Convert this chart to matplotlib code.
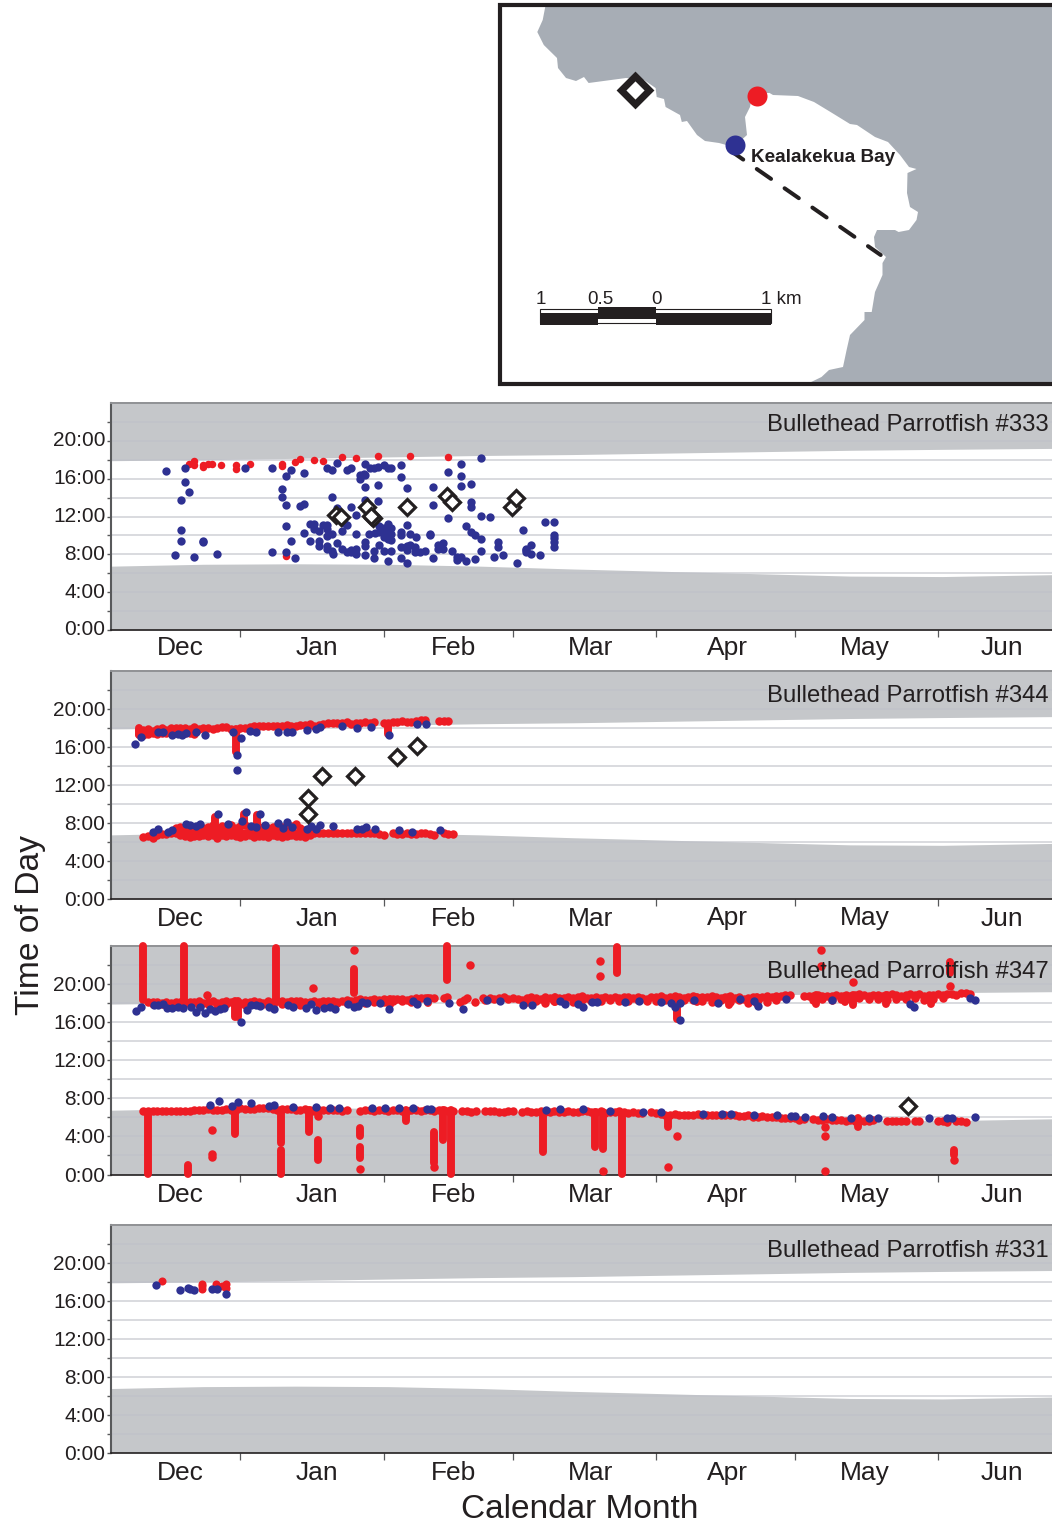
import matplotlib
matplotlib.use("Agg")
import matplotlib.pyplot as plt
from matplotlib.patches import Polygon, Rectangle
from matplotlib.transforms import ScaledTranslation

W, H = 1052, 1523
plt.rcParams['font.family'] = ['Liberation Sans', 'DejaVu Sans']
INK = '#231f20'; BLUE = '#2e3192'; RED = '#ed1c24'; NIGHT = '#c5c7ca'; SEA = '#a7adb5'

MONTHS = ['Dec', 'Jan', 'Feb', 'Mar', 'Apr', 'May', 'Jun']
MONTH_LABEL_DAYS = [14.9, 44.6, 74.2, 103.9, 133.5, 163.2, 192.8]
MONTH_EDGES = [28, 59, 87, 118, 148, 179]
HOUR_TICKS = [0, 2, 4, 6, 8, 10, 12, 14, 16, 18, 20, 22]
HOUR_LABELS = {0: '0:00', 4: '4:00', 8: '8:00', 12: '12:00', 16: '16:00', 20: '20:00'}

# sunrise / sunset
SUN_DAYS = [0, 20, 40, 60, 80, 100, 120, 140, 160, 180, 204]
SUNSET = [17.9, 18.0, 18.15, 18.3, 18.45, 18.55, 18.7, 18.85, 19.0, 19.1, 19.2]
SUNRISE = [6.75, 6.95, 7.0, 6.95, 6.75, 6.45, 6.2, 5.95, 5.7, 5.65, 5.85]

# --- #333
F333_BLUE_DAY = [11.8,16,16,16.8,15.1,15.1,15.1,13.9,18,20,20,22.9,29,34.9,37.9,38.9,41.8,37,37,37.9,41,41.8,37.9,38.9,34.9,37.9,39.8,41.8,43.1,43.1,43.9,43.9,45,45,45,46,46.8,46.8,46.8,47.9,46.8,46.8,47.9,48,48.9,47.9,46.8,47.9,48.9,51,52,52,53,51,50,50,51,52,53,53,53,52,55,56,55,53.9,54.8,57,53.9,55,57.8,59.1,59.9,60.7,62.7,57.8,55,57.8,62.7,64,59.9,60.7,59.1,59.9,60.7,59.1,58,59.9,60.7,58,58.8,59.5,60.3,55.8,55,55,57,57,55,58,59.1,60.7,59.9,62.7,62.7,64,64.8,66,62.7,64,64,64.8,65.9,65.9,66.9,67.9,62.7,64,69,69,69.8,69.8,69.8,71.8,70.8,70.8,71.8,72.9,72.9,75.8,75.8,75.8,77.9,77.9,77.9,80,80,82,76.8,77.9,78.9,80,73.9,75,75,75.8,76.8,78.9,80,82.9,83.7,83.7,84.9,87.8,89.1,89.9,89.9,90.9,90.9,89.9,92.8,94,95.9,95.9,95.9,95.9,95.9,49,50.5,57.2]
F333_BLUE_HR = [16.8,17.1,15.7,14.6,13.7,10.6,9.4,7.9,7.7,9.4,9.3,8,17.1,17.1,16.3,16.9,16.6,14.9,14.1,13.2,13.1,13.3,11,9.4,8.2,8.2,7.6,10.3,9.4,11.2,11.2,10.7,10.5,9.4,8.9,11.1,11.1,10.7,9.9,10.1,8.9,8.6,8.3,8,9.2,14.1,17.1,16.9,17.7,16.9,17.1,13,12.2,11.1,10.5,8.6,8.2,8.2,10.2,8.6,8,8.5,17.6,17.1,16.4,16,16.5,17.1,16.4,15.1,15.3,17.4,17.1,17.1,17.4,13.6,13.7,17.2,16.2,15,11.2,10.8,10.8,10.2,10.2,9.8,10.4,9.6,9.5,11,10.6,10.5,10.1,10.2,9.3,8.9,8.3,7.6,7.9,9,8.3,8.3,7.3,10.4,10,11.1,10.2,9.8,8.8,8.9,8.5,9,8.8,8.2,8.2,8.4,7.6,7.1,10.2,10,7.6,13.2,15.1,9.2,9,8.6,8.6,16.7,11.8,17.5,16.3,15.2,15.4,13.5,13,18.2,12.1,12,11,10.4,10,9.6,8.4,7.7,7.4,7.7,7.3,7.5,8.3,7.7,9.3,8.8,7.9,7.1,10.6,8.6,8.2,9,8,8.5,7.9,11.4,11.4,10,9.7,9.3,8.8,12.9,11.3,10.3]
F333_RED_DAY = [16.8,18,18,20,20,21.1,21.9,23.9,27,27,30,37,37,39.8,41,43.9,46,50,53,57.8,64.8,72.9,37.9]
F333_RED_HR = [17.5,17.9,17.4,17.4,17.2,17.5,17.5,17.4,17.4,17,17.5,17.5,17.3,17.8,18.1,18,17.9,18.3,18.2,18.4,18.4,18.3,7.8]
F333_TAG_DAY = [48.7,49.7,55.5,56.8,56.2,64,72.8,73.9,86.7,87.7]
F333_TAG_HR = [12.2,12,13,11.8,12.1,13,14.2,13.5,13,14]

# --- #344
F344_BLUE_DAY = [5.3,6.4,10.2,11.3,13.3,14.4,15.3,16.2,18.4,20.3,26.5,28.1,27.2,27.2,30.1,31.3,36.2,38.2,39.1,42.4,44.4,45.2,50.1,53.3,56.2,60.2,66.2,68.2,9.2,10.2,12.3,13.3,16.2,17.2,18.4,19.3,23.2,25.3,28.3,29.2,30.2,31.3,32.3,33.3,36.2,37.2,38.2,39.1,42.4,43.4,44.4,45.2,48.1,53.3,54.3,55.2,57.1,62.3,65.2,71.3]
F344_BLUE_HR = [16.3,17.1,17.6,17.6,17.3,17.4,17.3,17.5,17.6,17.3,17.6,17,15.2,13.6,17.7,17.6,17.6,17.6,17.6,17.8,17.9,18.1,18.2,18,18.1,17.3,18.4,18.4,7.1,7.4,7.1,7.3,7.9,7.8,7.7,7.9,8.9,7.9,8.2,9.2,7.7,7.6,9,7.8,8,7.5,8.1,7.6,7.4,7.7,7.4,7.8,7.7,7.4,7.4,7.6,7.4,7.3,7.1,7.3]
F344_RED_UP_DAY = list(range(6, 51)) + [51,52,53,54,55,56,57,59,60,61,62,63,64,65,66,67,68,71,72,73]
F344_RED_UP_HR = [17.8,17.8,17.9,17.7,17.9,18,17.8,18,18,18,18,17.9,18.1,17.9,18,18,17.9,18,18.1,18.1,17.9,17.7,18,18,18.1,18.2,18.2,18.2,18.2,18.2,18.2,18.2,18.3,18.2,18.2,18.3,18.3,18.4,18.2,18.3,18.4,18.5,18.5,18.5,18.5,18.6,18.4,18.5,18.5,18.6,18.5,18.6,18.5,18.5,18.6,18.6,18.7,18.6,18.6,18.7,18.8,18.8,18.7,18.7,18.7]
F344_RED_UP2_DAY = [6,7,8,9,10,11,12,13,14,15,16,17,18]
F344_RED_UP2_HR = [17.4,17.3,17.4,17.5,17.4,17.5,17.5,17.6,17.6,17.6,17.5,17.5,17.4]
F344_RED_LO_DAY = list(range(7, 60)) + [61,62,63,64,65,66,67,68,69,70,72,73,74]
F344_RED_LO_HR = [6.5,6.6,6.4,6.7,6.8,6.8,6.9,7,7.2,7.1,6.9,7,7,7,7,7.1,6.9,7.1,7,7.1,7,7.1,7,6.9,6.8,7,7,6.9,7.1,7,7,7.1,7.1,7,7,6.9,7,6.9,7,6.9,7,6.9,7,6.9,7,7,6.9,7,7,6.9,6.9,6.8,6.7,6.9,6.8,6.8,6.9,6.8,6.8,6.9,6.9,6.8,6.7,6.9,6.8,6.8]
F344_RED_LO2_DAY = list(range(14, 43))
F344_RED_LO2_HR = [7.5,7.6,7.5,7.4,7.4,7.5,7.5,7.6,7.8,7.5,7.7,7.5,7.8,7.5,7.7,7.8,7.4,7.5,7.5,7.6,7.5,7.6,7.7,7.6,7.8,7.7,7.9,7.5,7.3]
F344_RED_LO3_DAY = list(range(15, 44))
F344_RED_LO3_HR = [6.7,6.6,6.5,6.6,6.6,6.7,6.6,6.7,6.4,6.7,6.6,6.7,6.6,6.5,6.6,6.7,6.5,6.6,6.6,6.5,6.7,6.6,6.5,6.6,6.7,6.6,6.6,6.5,6.7]
F344_STREAK_DAY = [6, 22.5, 27, 28.7, 31.6, 60]
F344_STREAK_LO = [17.3, 7.2, 15.5, 7.8, 7.5, 17.4]
F344_STREAK_HI = [18, 8.6, 17.9, 9, 8.8, 18.4]
F344_TAG_DAY = [42.6,45.7,42.6,52.8,62,66.2]
F344_TAG_HR = [8.9,12.9,10.6,12.9,15,16.1]

# --- #347
F347_BLUE_DAY = [5.4,6.5,9.3,10.2,11.3,12.2,13.3,14.4,15.5,17.3,18.4,19.3,20.4,21.4,22.5,23.6,24.5,28.2,29.4,30.3,31.4,32.3,34.3,35.3,38.3,39.4,42.2,43.3,44.3,46.2,47.3,48.4,51.4,52.5,53.4,54.4,55.4,58.2,60.2,65.4,66.3,68.3,73.2,76.2,81.3,84.3,89.2,91.2,97.3,98.2,101,102.2,104.1,105.2,111.3,114.2,119.1,121.2,122.1,123.2,123.2,126.2,131.3,136.2,139.2,140,146.1,156,172.9,173.9,186,187,
 21.4,23.3,26.3,27.4,30.3,34.3,35.3,39.4,44.3,47.3,49.4,56.5,59.3,62.3,65.4,68.3,69.3,94.2,97.3,102.2,108,115.1,119.1,128.1,132.2,134.2,139.2,144.1,147.1,148.1,150.2,154.2,156,160.1,164.1,166.1,177.1,180.9,182.1,187]
F347_BLUE_HR = [17.2,17.6,17.8,17.8,17.9,17.5,17.5,17.6,17.5,17.6,17.1,17.6,17,17.4,17.2,17.4,17.5,16,17.3,17.8,17.8,17.7,17.6,17.4,17.8,17.6,17.5,17.9,17.3,17.5,17.6,17.4,17.9,17.6,17.7,18.1,18,18,17.4,18.2,17.9,18.2,18,17.4,18.3,18.2,17.8,17.8,18.2,17.9,17.9,17.6,18.1,18.1,18.1,18.2,18.1,18,17.6,18,16.2,18.3,18,18.4,18.2,17.7,18.4,18.3,17.9,17.6,18.5,18.3,
 7.3,7.7,7.2,7.6,7.5,7.2,7.3,7.1,7.1,7,7,7,7,7,7,6.9,6.9,6.8,6.9,6.9,6.7,6.6,6.6,6.4,6.4,6.4,6.2,6.2,6.1,6.1,6,6.1,6,5.9,5.9,5.9,5.9,5.9,5.9,6]
F347_RED_UP_DAY = list(range(8, 70)) + [70,72,72.8,75.5,76.5,77,78.8,80.6] + list(range(81, 148)) + list(range(150, 185)) + [185,186]
F347_RED_UP_HR = [18.1,18.1,18.1,18,18.1,18,18.1,18.1,18,18.1,18.1,18.2,18,18.1,18.2,18,18.1,18.2,18.1,18,18,18.1,18.1,18.2,18.1,18,18.2,18.1,18.2,18.2,18.1,18.2,18.2,18.2,18.1,18.1,18.2,18.1,18.2,18.2,18.2,18.1,18.2,18.3,18.2,18.3,18.4,18.3,18.3,18.4,18.3,18.4,18.3,18.4,18.4,18.4,18.3,18.4,18.5,18.5,18.5,18.5,
 18.5,18.5,18.6,18.1,18.3,18.5,18.1,18.5,
 18.3,18.5,18.4,18.5,18.6,18.4,18.5,18.4,18.3,18.5,18.6,18.5,18.4,18.6,18.5,18.4,18.5,18.5,18.6,18.5,18.6,18.7,18.5,18.5,18.6,18.5,18.6,18.5,18.6,18.5,18.6,18.6,18.5,18.6,18.5,18.4,18.6,18.6,18.7,18.5,18.6,18.7,18.6,18.5,18.6,18.7,18.5,18.6,18.6,18.7,18.6,18.5,18.6,18.7,18.5,18.6,18.4,18.5,18.6,18.5,18.6,18.7,18.6,18.8,18.7,18.9,18.9,
 18.8,18.7,18.8,18.9,18.8,18.7,18.8,18.9,18.8,18.9,18.8,18.9,19,18.9,18.8,18.9,18.9,18.8,18.9,19,18.9,18.8,18.9,19,18.9,19,18.8,18.9,18.9,19,18.9,19,19,18.9,19.1,19.1,19]
F347_RED_UP2_DAY = [9,11,13,15,17,19,21,23,25,27,29,31,33,35,37,39,41,43,45,47,49,51,53,55,57,59,61,63,65,90,92,94,96,98,100,102,104,106,108,110,112,114,116,118,120,122,124,126,128,130,132,134,136,138,140,142,144,152,154,156,158,160,162,164,166,168,170,172,174,176,178,180]
F347_RED_UP2_HR = [17.9,17.9,17.8,17.9,17.9,17.8,17.9,17.8,17.9,17.3,17.8,17.9,17.9,17.8,17.9,17.9,17.8,18,17.9,17.9,18,18,18,18,18.1,18.1,18.2,18.2,18.1,18.1,18.2,18,18.2,18.1,18.1,18.3,18.2,18.2,18.3,18.2,18.2,18.3,18.2,18.2,18.3,18.2,18.3,18.3,18.2,18.1,18.3,18.1,18.3,18,18.3,18.1,18.3,18.3,18.4,18.3,18.4,18.4,18.5,18.4,18.4,18.3,18.4,18.4,18.5,18.3,18.4,18.5]
F347_RED_LO_DAY = list(range(7, 52)) + list(range(54, 75)) + [76,77,78,79,81,82,83,84,85,86,87,89,90,91,92] + list(range(93, 116)) + list(range(117, 150)) + [150,152,153,154,155,156,157,158,159,160,161,162,163,164,165,168,169,170,171,172,174,175,179,180,181,183,184,185]
F347_RED_LO_HR = [6.7,6.7,6.7,6.7,6.7,6.7,6.7,6.7,6.7,6.7,6.7,6.8,6.8,6.8,6.9,6.8,6.8,6.8,6.9,6.8,6.8,7,6.9,6.9,6.9,7,7,7,6.9,6.8,6.9,6.9,6.9,6.8,6.8,6.9,6.8,6.7,6.8,6.8,6.8,6.8,6.8,6.7,6.8,
 6.7,6.8,6.8,6.7,6.8,6.8,6.7,6.8,6.8,6.7,6.7,6.8,6.8,6.7,6.8,6.8,6.7,6.8,6.8,6.7,6.7,
 6.7,6.7,6.6,6.7,6.7,6.7,6.7,6.6,6.6,6.7,6.7,6.6,6.7,6.6,6.6,
 6.7,6.6,6.6,6.7,6.6,6.6,6.7,6.6,6.6,6.7,6.7,6.6,6.6,6.7,6.5,6.6,6.6,6.7,6.6,6.5,6.6,6.5,6.5,
 6.6,6.5,6.4,6.3,6.3,6.4,6.3,6.3,6.3,6.3,6.4,6.3,6.3,6.2,6.3,6.3,6.2,6.2,6.2,6.1,6.1,6.2,6.0,6.0,6.1,6.0,6.0,6.0,5.9,5.9,5.9,5.9,5.7,
 5.8,5.8,5.7,5.7,5.8,5.7,5.7,5.7,5.6,5.7,5.6,5.7,5.6,5.6,5.7,5.6,5.6,5.6,5.6,5.6,5.6,5.6,5.6,5.6,5.5,5.6,5.6,5.5]
F347_STREAK_DAY = [6.9,6.9,8,15.9,16.7,26.8,26.8,27.6,35.8,36.7,36.7,42.8,44.8,52.7,53.9,53.9,63.8,69.9,71.9,72.8,73.7,93.6,104.7,106.6,110.7,109.6,120.6,122.6,152.6,167.8,160.7,133.7,177.5,181.6,182.5,161.6,60.3,68.7,96.1,126.8,139.9,158.9]
F347_STREAK_LO = [18.3,21,0.1,17.9,0.1,16.5,4.3,16.5,18.4,3.3,0.1,4.5,1.5,19.1,4,1.7,5.6,1.2,3.6,20.4,0.1,2.4,2.9,2.7,0.1,21.2,5,16.3,17.9,17.9,17.8,17.8,17.9,21.2,2,5,17.8,18,18.1,18.1,17.9,18.1]
F347_STREAK_HI = [20.9,24,6.6,24,1,18.2,6.8,18.2,23.8,6.8,2.6,6.8,3.6,21.6,4.9,2.9,6.8,4.5,6.8,24,6.8,6.6,6.6,6.6,6.3,23.9,6.1,17.9,18.9,18.9,18.9,18.6,18.7,22.3,2.6,5.9,18.4,18.5,18.6,18.6,18.6,18.8]
F347_DOT_DAY = [20.8,21.9,21.9,21.9,43.7,44.8,52.7,53.9,69.9,77.7,105.8,105.8,106.6,120.6,122.6,153.6,153.6,154.6,154.6,154.6,160.7,181.6,182.5]
F347_DOT_HR = [18.9,4.7,2.2,1.8,19.6,6.1,23.6,0.6,0.8,22,22.4,20.8,0.4,0.8,4,23.6,21.9,5,4,0.4,20.2,19.8,1.5]
F347_TAG_DAY = [172.6]
F347_TAG_HR = [7.2]

# --- #331
F331_BLUE_DAY = [9.7,14.9,16.6,17.2,17.9,21.8,22.9,24.8]
F331_BLUE_HR = [17.7,17.1,17.4,17.3,17.1,17.3,17.3,16.7]
F331_RED_DAY = [11,19.8,19.8,19.8,22.7,24,24.8,24.8]
F331_RED_HR = [18.1,17.8,17.6,17.3,17.8,17.6,17.8,17.4]

# --- map outline and geometry (figure pixels)
COAST_X = [545.6,542.7,537.3,543.8,557,558,566,576,584,588.6,626,644,655.6,656.7,664,665.6,680,681.8,687,697,705,719,733.7,747,745,750,751.6,766,769.6,773,798,814,830.5,850,857,875,888,900,909,916.5,907.5,907,910,918,916.5,909,898.6,895,877,874,875,886,882.5,882.5,875,871.7,864.5,864.5,850,846.6,843,829,821.5,807,1052,1052]
COAST_Y = [5,20,32,45,58,68,78,81,77,83,78,80,88,97,99,107,115,122,121,135,141,143,147,135,117,107,98,93,93,95,96,102,112,124,125,137,142,155,167,169,173,193,207,212,220,230,232,230,230,237,247,257,263,275,292,312,312,320,335,350,367,370,377,384,384,5]


def fpos(x0, y0, x1, y1):
    return [x0 / W, 1 - y1 / H, (x1 - x0) / W, (y1 - y0) / H]


def panel(top, bottom, title, title_drop, xpad, ylift):
    ax = fig.add_axes(fpos(111, top, 1052, bottom))
    ax.set_xlim(0, 203.7)
    ax.set_ylim(0, 24)
    ax.fill_between(SUN_DAYS, SUNSET, 24, color=NIGHT, lw=0, zorder=1)
    ax.fill_between(SUN_DAYS, 0, SUNRISE, color=NIGHT, lw=0, zorder=1)
    ax.hlines(HOUR_TICKS[1:], 0, 203.7, color='#bfc1c9', lw=1.1, alpha=0.75, zorder=2)
    ax.set_yticks(HOUR_TICKS)
    ax.set_yticklabels([HOUR_LABELS.get(h, '') for h in HOUR_TICKS], fontsize=15, color=INK)
    ax.set_xticks(MONTH_EDGES)
    ax.set_xticklabels([])
    ax.set_xticks(MONTH_LABEL_DAYS, MONTHS, minor=True, fontsize=19, color=INK)
    ax.tick_params(axis='x', which='major', length=5, width=0.9, color='#58595b')
    ax.tick_params(axis='x', which='minor', length=0, pad=xpad)
    ax.tick_params(axis='y', length=3, width=1.0, color='#58595b', pad=1)
    lift = ScaledTranslation(0, ylift / 100, fig.dpi_scale_trans)
    for lab in ax.get_yticklabels():
        lab.set_transform(lab.get_transform() + lift)
    ax.spines['right'].set_visible(False)
    ax.spines['top'].set_color('#8f9194'); ax.spines['top'].set_linewidth(1.4)
    ax.spines['left'].set_color('#58595b'); ax.spines['left'].set_linewidth(1.5)
    ax.spines['bottom'].set_color(INK); ax.spines['bottom'].set_linewidth(1.2)
    ax.text((1049 - 111) / 941, 1 - title_drop / (bottom - top), title, transform=ax.transAxes,
            ha='right', va='center', fontsize=17.2, color=INK, zorder=8)
    return ax


def dots(ax, x, y, c, ms=6.0, z=4):
    ax.plot(x, y, ls='none', marker='o', ms=ms, mfc=c, mec=c, mew=0, zorder=z, clip_on=False)


def tags(ax, x, y):
    ax.plot(x, y, ls='none', marker='D', ms=8.3, mfc='white', mec=INK, mew=2.3, zorder=6, clip_on=False)


def streaks(ax, x, lo, hi):
    vl = ax.vlines(x, lo, hi, color=RED, lw=5.7, zorder=3.5, clip_on=False)
    vl.set_capstyle('round')


fig = plt.figure(figsize=(W / 100, H / 100), dpi=100, facecolor='white')

# map
m = fig.add_axes(fpos(497, 2, 1052, 387))
m.set_xlim(497, 1052); m.set_ylim(387, 2); m.axis('off')
m.add_patch(Polygon(list(zip(COAST_X, COAST_Y)), closed=True, fc=SEA, ec='none', zorder=1))
m.plot([1052, 500, 500, 1052], [5, 5, 384, 384], color=INK, lw=3.0, solid_joinstyle='miter', zorder=5)
m.plot([729, 880.7], [149.7, 255], color=INK, lw=2.9, ls=(0, (4.3, 4.1)), zorder=3, dash_capstyle='round')
m.plot([635], [90], marker='D', ms=14.3, mfc='white', mec=INK, mew=5, zorder=4)
m.plot([756.5], [96], marker='o', ms=14.4, mfc=RED, mec='none', zorder=4)
m.plot([734.5], [145], marker='o', ms=14.4, mfc=BLUE, mec='none', zorder=4)
m.text(751, 157, 'Kealakekua Bay', fontsize=13.6, fontweight='bold', color=INK, va='center', zorder=6)
m.add_patch(Rectangle((540, 309), 230.5, 14, fc='white', ec=INK, lw=0.8, zorder=4))
m.add_patch(Rectangle((540, 313), 58, 11.5, fc=INK, ec='none', zorder=5))
m.add_patch(Rectangle((598, 307), 57.5, 12, fc=INK, ec='none', zorder=5))
m.add_patch(Rectangle((655.5, 313), 115, 11.5, fc=INK, ec='none', zorder=5))
for xt, s, ha in [(541, '1', 'center'), (600.5, '0.5', 'center'), (656.5, '0', 'center'), (761, '1 km', 'left')]:
    m.text(xt, 299.5, s, fontsize=13.5, color=INK, ha=ha, va='center', zorder=6)

# panels
a1 = panel(403, 630, 'Bullethead Parrotfish #333', 22, 4.0, 2)
dots(a1, F333_RED_DAY, F333_RED_HR, RED, ms=5.4, z=3.8)
dots(a1, F333_BLUE_DAY, F333_BLUE_HR, BLUE)
tags(a1, F333_TAG_DAY, F333_TAG_HR)

a2 = panel(671, 899, 'Bullethead Parrotfish #344', 25, 5.4, 0.5)
streaks(a2, F344_STREAK_DAY, F344_STREAK_LO, F344_STREAK_HI)
for xs, ys in [(F344_RED_UP_DAY, F344_RED_UP_HR), (F344_RED_UP2_DAY, F344_RED_UP2_HR),
               (F344_RED_LO_DAY, F344_RED_LO_HR), (F344_RED_LO2_DAY, F344_RED_LO2_HR),
               (F344_RED_LO3_DAY, F344_RED_LO3_HR)]:
    dots(a2, xs, ys, RED, ms=6.1, z=3.8)
dots(a2, F344_BLUE_DAY, F344_BLUE_HR, BLUE)
tags(a2, F344_TAG_DAY, F344_TAG_HR)

a3 = panel(946, 1174.5, 'Bullethead Parrotfish #347', 26, 6.0, 0.5)
streaks(a3, F347_STREAK_DAY, F347_STREAK_LO, F347_STREAK_HI)
for xs, ys in [(F347_RED_UP_DAY, F347_RED_UP_HR), (F347_RED_UP2_DAY, F347_RED_UP2_HR),
               (F347_RED_LO_DAY, F347_RED_LO_HR), (F347_DOT_DAY, F347_DOT_HR)]:
    dots(a3, xs, ys, RED, ms=6.1, z=3.8)
dots(a3, F347_BLUE_DAY, F347_BLUE_HR, BLUE)
tags(a3, F347_TAG_DAY, F347_TAG_HR)

a4 = panel(1225, 1452.5, 'Bullethead Parrotfish #331', 26, 6.0, 0.5)
dots(a4, F331_RED_DAY, F331_RED_HR, RED, ms=5.8, z=3.8)
dots(a4, F331_BLUE_DAY, F331_BLUE_HR, BLUE)

fig.text(31 / W, 1 - 925 / H, 'Time of Day', rotation=90, fontsize=24.2, color=INK, ha='center', va='center')
fig.text(580 / W, 1 - 1510 / H, 'Calendar Month', fontsize=24, color=INK, ha='center', va='center')

fig.savefig('out.png', dpi=100, facecolor='white')
